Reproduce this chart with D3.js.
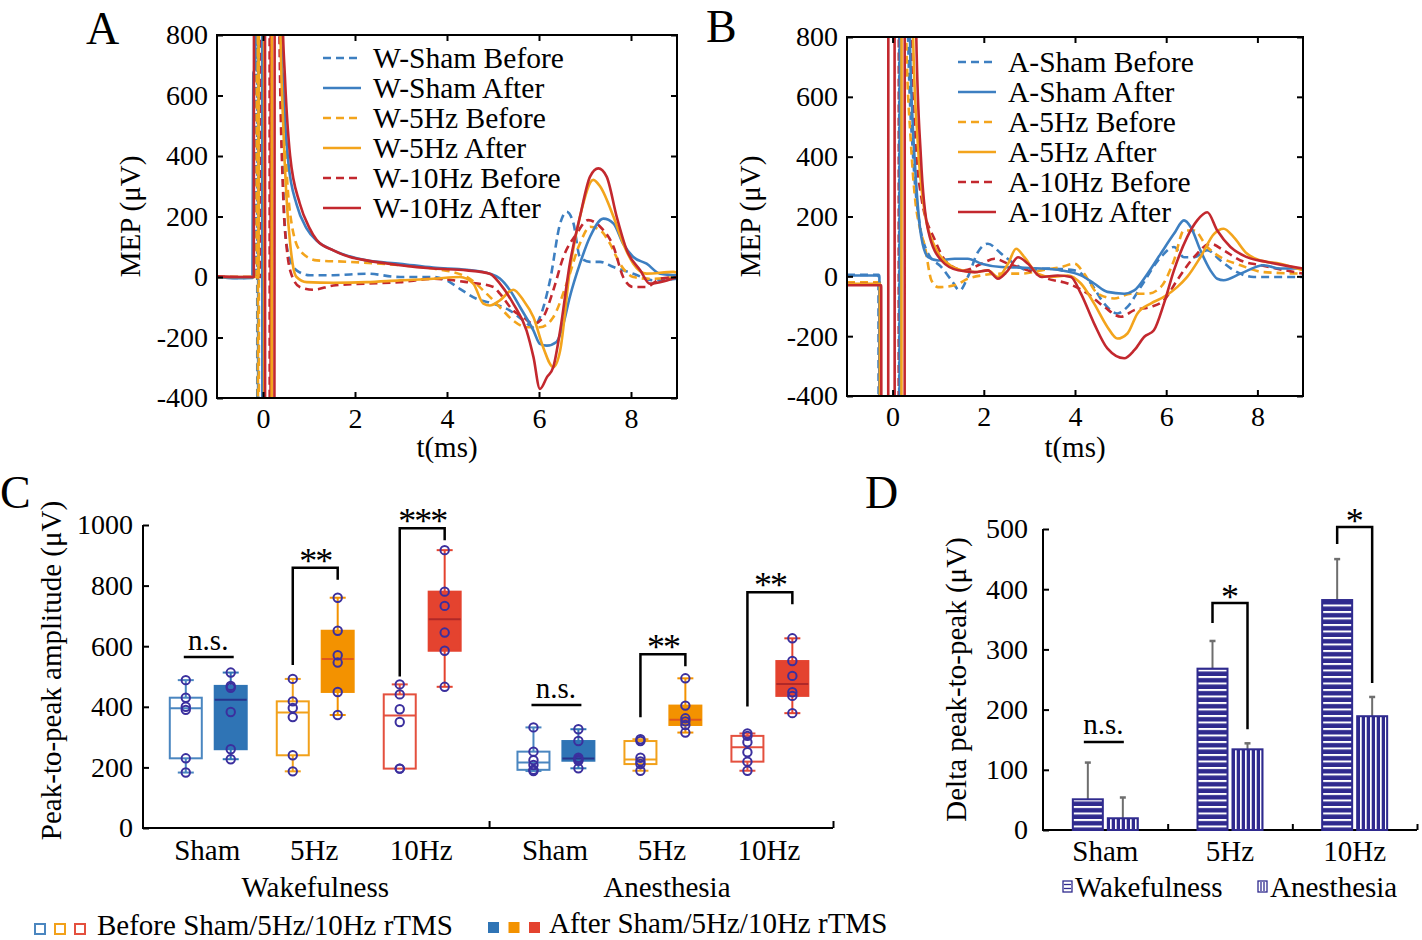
<!DOCTYPE html>
<html><head><meta charset="utf-8">
<script src="https://cdn.jsdelivr.net/npm/d3@7"></script>
<style>
body{margin:0;background:#fff}
svg{display:block}
text{font-family:"Liberation Serif","Times New Roman",serif;fill:#000}
</style>
</head><body>
<svg id="c" width="1422" height="940"></svg>
<script>
// ---------------- DATA ----------------
const tTicks = [0, 2, 4, 6, 8];
const mepTicks = [-400, -200, 0, 200, 400, 600, 800];
const wLabels = ["W-Sham Before", "W-Sham After", "W-5Hz Before", "W-5Hz After", "W-10Hz Before", "W-10Hz After"];
const aLabels = ["A-Sham Before", "A-Sham After", "A-5Hz Before", "A-5Hz After", "A-10Hz Before", "A-10Hz After"];

// Panel A traces [t (ms), MEP (uV)]
const wShamBefore = [[-1,0],[-0.5,-3],[-0.16,0],[-0.15,2500],[-0.13,2500],[-0.12,-2500],[-0.11,-2500],[-0.10,2500],[0.30,2500],[0.37,850],[0.43,350],[0.51,110],[0.62,45],[0.73,22],[1.02,6],[1.53,6],[2.25,11],[2.98,0],[3.70,0],[3.99,-11],[4.28,-39],[4.64,-72],[5.01,-88],[5.37,-111],[5.66,-144],[5.88,-166],[6.02,-133],[6.24,-11],[6.46,177],[6.60,216],[6.75,177],[6.89,66],[7.11,50],[7.33,50],[7.62,33],[8.05,11],[8.49,-11],[9.0,-6]];
const wShamAfter = [[-1,0],[-0.6,-4],[-0.23,-3],[-0.21,674],[-0.17,690],[-0.15,2500],[-0.02,2500],[-0.01,-2500],[0.01,-2500],[0.02,2500],[0.33,2500],[0.38,900],[0.45,600],[0.55,380],[0.73,240],[0.95,160],[1.17,120],[1.53,88],[2.25,55],[2.98,44],[3.70,31],[4.43,24],[4.93,11],[5.15,-5],[5.37,-44],[5.59,-100],[5.88,-177],[6.02,-221],[6.17,-227],[6.38,-215],[6.53,-155],[6.67,-66],[6.89,44],[7.11,133],[7.40,193],[7.62,177],[7.83,110],[8.05,66],[8.34,44],[8.63,11],[9.0,6]];
const wFiveBefore = [[-1,0],[-0.5,0],[-0.14,0],[-0.13,2500],[-0.115,2500],[-0.105,-2500],[-0.095,-2500],[-0.085,2500],[0.35,2500],[0.42,800],[0.50,400],[0.59,210],[0.80,88],[1.17,55],[1.89,50],[2.98,39],[3.70,28],[4.43,0],[4.86,-55],[5.15,-100],[5.44,-144],[5.73,-166],[6.02,-166],[6.31,-133],[6.60,-22],[6.89,111],[7.11,166],[7.33,155],[7.54,111],[7.76,44],[8.05,0],[8.41,-6],[9.0,0]];
const wFiveAfter = [[-1,0],[-0.5,0],[-0.1,0],[-0.09,2500],[0.02,2500],[0.03,-2500],[0.18,-2500],[0.20,2500],[0.32,2500],[0.37,900],[0.44,500],[0.51,265],[0.59,111],[0.66,30],[0.73,0],[0.95,-17],[1.53,-19],[2.25,-17],[2.98,-11],[3.70,-6],[4.28,0],[4.57,-22],[4.79,-88],[4.93,-94],[5.15,-77],[5.44,-42],[5.66,-77],[5.88,-133],[6.09,-232],[6.31,-298],[6.46,-243],[6.67,22],[6.89,199],[7.18,321],[7.33,299],[7.62,199],[7.83,111],[8.05,44],[8.34,11],[8.92,17],[9.0,15]];
const wTenBefore = [[-1,0],[-0.5,0],[-0.05,0],[-0.04,2500],[0.14,2500],[0.15,-2500],[0.16,-2500],[0.17,2500],[0.30,2500],[0.35,900],[0.44,265],[0.52,90],[0.59,22],[0.80,-33],[1.09,-42],[1.53,-28],[2.25,-22],[2.98,-17],[3.70,-6],[4.43,-17],[5.01,-33],[5.15,-55],[5.44,-111],[5.66,-133],[5.88,-155],[6.09,-133],[6.31,-44],[6.53,66],[6.82,144],[7.07,188],[7.33,166],[7.62,100],[7.83,0],[8.05,-33],[8.34,-33],[8.63,-6],[9.0,0]];
const wTenAfter = [[-1,2],[-0.5,0],[-0.2,0],[-0.19,2500],[0.04,2500],[0.05,-2500],[0.24,-2500],[0.26,2500],[0.36,2500],[0.42,900],[0.48,652],[0.59,400],[0.80,243],[1.0,165],[1.17,122],[1.53,88],[1.89,66],[2.25,55],[2.98,39],[3.70,28],[4.43,22],[4.93,11],[5.15,-22],[5.44,-88],[5.73,-177],[5.88,-265],[6.02,-370],[6.17,-332],[6.31,-298],[6.46,-177],[6.67,44],[6.89,199],[7.11,332],[7.29,359],[7.47,332],[7.69,199],[7.91,88],[8.20,22],[8.41,-22],[8.63,-17],[9.0,0]];

// Panel B traces
const aShamBefore = [[-1,5],[-0.5,5],[-0.31,5],[-0.30,-2500],[0.14,-2500],[0.15,2500],[0.28,2500],[0.34,800],[0.45,400],[0.56,209],[0.78,76],[1.07,31],[1.29,-13],[1.47,-47],[1.65,-2],[1.87,81],[2.09,109],[2.38,76],[2.67,42],[2.97,20],[3.40,26],[3.99,20],[4.35,-24],[4.64,-91],[4.93,-124],[5.15,-102],[5.44,-36],[5.88,64],[6.17,98],[6.39,64],[6.61,64],[6.90,87],[7.19,53],[7.48,20],[7.92,-2],[9.0,-2]];
const aShamAfter = [[-1,3],[-0.5,3],[-0.29,3],[-0.28,-2500],[0.15,-2500],[0.16,2500],[0.32,2500],[0.38,800],[0.43,550],[0.49,375],[0.63,131],[0.78,64],[1.0,53],[1.36,59],[1.65,59],[1.95,42],[2.38,31],[2.82,29],[3.26,26],[3.69,20],[4.13,3],[4.42,-24],[4.71,-52],[5.08,-58],[5.30,-47],[5.59,9],[5.88,76],[6.17,142],[6.39,187],[6.54,164],[6.75,87],[6.97,20],[7.12,-8],[7.26,-13],[7.63,9],[8.14,37],[8.50,26],[9.0,26]];
const aFiveBefore = [[-1,-20],[-0.5,-20],[-0.28,-20],[-0.27,-2500],[0.17,-2500],[0.18,2500],[0.25,2500],[0.30,800],[0.40,450],[0.49,264],[0.60,160],[0.71,98],[0.85,-13],[1.0,-36],[1.36,-30],[1.65,-8],[1.95,3],[2.38,9],[2.82,9],[3.26,20],[3.69,31],[3.99,42],[4.20,9],[4.50,-58],[4.86,-74],[5.22,-58],[5.59,-58],[5.88,-36],[6.17,53],[6.39,153],[6.61,153],[6.90,98],[7.19,64],[7.63,37],[8.14,14],[9.0,9]];
const aFiveAfter = [[-1,-25],[-0.5,-25],[-0.28,-25],[-0.27,-2500],[0.19,-2500],[0.20,2500],[0.38,2500],[0.45,800],[0.55,450],[0.71,209],[0.93,98],[1.22,42],[1.51,20],[1.80,14],[2.09,20],[2.31,-2],[2.53,42],[2.71,92],[2.89,64],[3.18,9],[3.48,-2],[3.84,3],[4.13,-24],[4.42,-91],[4.71,-169],[4.93,-208],[5.15,-191],[5.37,-124],[5.66,-91],[5.95,-69],[6.24,-36],[6.46,-2],[6.75,64],[7.05,142],[7.26,159],[7.48,131],[7.77,76],[8.07,53],[8.50,42],[9.0,20]];
const aTenBefore = [[-1,-25],[-0.5,-25],[-0.29,-25],[-0.28,-2500],[0.13,-2500],[0.14,2500],[0.34,2500],[0.40,800],[0.50,450],[0.63,264],[0.93,120],[1.22,42],[1.58,20],[1.95,42],[2.24,59],[2.53,42],[2.97,20],[3.40,-8],[3.84,-24],[4.28,-58],[4.64,-102],[5.01,-135],[5.30,-113],[5.66,-102],[5.95,-80],[6.24,-13],[6.61,64],[6.97,109],[7.26,87],[7.63,53],[8.07,37],[9.0,9]];
const aTenAfter = [[-1,-30],[-0.5,-30],[-0.25,-30],[-0.24,-2500],[-0.10,-2500],[-0.09,2500],[0.04,2500],[0.05,-2500],[0.26,-2500],[0.27,2500],[0.45,2500],[0.52,800],[0.62,400],[0.78,153],[1.07,53],[1.44,20],[1.80,14],[2.09,20],[2.31,-8],[2.53,20],[2.75,64],[2.97,42],[3.26,-2],[3.62,3],[3.91,-2],[4.13,-58],[4.42,-158],[4.71,-241],[5.08,-274],[5.30,-247],[5.52,-202],[5.73,-180],[5.95,-91],[6.17,20],[6.46,131],[6.68,187],[6.90,214],[7.12,153],[7.41,98],[7.77,64],[8.21,48],[9.0,26]];

// Panel C: peak-to-peak amplitude (uV), individual animals
const stimCats = ["Sham", "5Hz", "10Hz"];
const stateCats = ["Wakefulness", "Anesthesia"];
const ampTicks = [0, 200, 400, 600, 800, 1000];
const wakeBefore = [[183,230,390,400,430,488],[187,240,366,396,418,492],[196,196,350,392,441,474]];
const wakeAfter  = [[227,260,383,463,469,513],[373,449,546,570,651,760],[466,585,645,733,780,917]];
const anesBefore = [[188,192,208,224,252,332],[189,211,220,232,287,293],[189,219,250,283,304,312]];
const anesAfter  = [[197,222,227,232,287,326],[315,340,352,362,404,494],[379,436,448,502,551,626]];
const sigC = ["n.s.", "**", "***", "n.s.", "**", "**"];

// Panel D: delta peak-to-peak (mean, SD)
const deltaTicks = [0, 100, 200, 300, 400, 500];
const deltaWake = [51, 268, 382];
const deltaWakeSD = [61, 46, 68];
const deltaAnes = [19.5, 134, 189];
const deltaAnesSD = [34.5, 10, 32];
const sigD = ["n.s.", "*", "*"];

// ---------------- DRAW ----------------
const svg = d3.select('#c');
const FS = 28;
const COL = {blue:'#3d7fc1', orange:'#f3a41c', red:'#c3282e'};
const BOX = {
  before:['#4a86c0','#f2a11a','#e4503e'],
  after:['#2f74b5','#f39200','#e4432f'],
  medAfter:['#27348c','#e0561c','#b02828']
};
const NAVY = '#2f2a8e';
const PT = '#3b2f9e';
const plain = d => String(d);

function styleAxis(g, showText){
  g.selectAll('.domain').remove();
  g.selectAll('line').attr('stroke','#000').attr('stroke-width',2);
  g.selectAll('text').attr('font-size',FS).attr('fill','#000');
  if(!showText) g.selectAll('text').remove();
}

const defs = svg.append('defs');

function tracePanel(o){
  const x = d3.scaleLinear().domain([-1,9]).range([o.x0,o.x1]);
  const y = d3.scaleLinear().domain([-400,800]).range([o.y1,o.y0]);
  const g = svg.append('g');
  defs.append('clipPath').attr('id',o.id).append('rect')
    .attr('x',o.x0).attr('y',o.y0).attr('width',o.x1-o.x0).attr('height',o.y1-o.y0);
  const line = d3.line().x(d=>x(d[0])).y(d=>y(d[1])).curve(d3.curveMonotoneX);
  const order = [0,2,4,1,3,5];
  order.forEach(i=>{
    const s = o.series[i];
    g.append('path').attr('d',line(s.data)).attr('clip-path',`url(#${o.id})`)
      .attr('fill','none').attr('stroke',s.color).attr('stroke-width',2.6)
      .attr('stroke-linejoin','round')
      .attr('stroke-dasharray',s.dash?'8,5':null);
  });
  // axes
  const gl = g.append('g').attr('transform',`translate(${o.x0},0)`)
    .call(d3.axisLeft(y).tickValues(mepTicks).tickFormat(plain).tickSizeInner(-6).tickSizeOuter(0).tickPadding(9));
  styleAxis(gl,true);
  const gr = g.append('g').attr('transform',`translate(${o.x1},0)`)
    .call(d3.axisRight(y).tickValues(mepTicks).tickSizeInner(-6).tickSizeOuter(0));
  styleAxis(gr,false);
  const gb = g.append('g').attr('transform',`translate(0,${o.y1})`)
    .call(d3.axisBottom(x).tickValues(tTicks).tickFormat(plain).tickSizeInner(-6).tickSizeOuter(0).tickPadding(10));
  styleAxis(gb,true);
  const gt = g.append('g').attr('transform',`translate(0,${o.y0})`)
    .call(d3.axisTop(x).tickValues(tTicks).tickSizeInner(-6).tickSizeOuter(0));
  styleAxis(gt,false);
  g.append('rect').attr('x',o.x0).attr('y',o.y0).attr('width',o.x1-o.x0).attr('height',o.y1-o.y0)
    .attr('fill','none').attr('stroke','#000').attr('stroke-width',2);
  // legend
  o.labels.forEach((lab,i)=>{
    const s = o.series[i];
    const ly = o.legY + i*30;
    g.append('line').attr('x1',o.legX).attr('x2',o.legX+38).attr('y1',ly).attr('y2',ly)
      .attr('stroke',s.color).attr('stroke-width',2.6).attr('stroke-dasharray',s.dash?'8,5':null);
    g.append('text').attr('x',o.legX+50).attr('y',ly+10).attr('font-size',29.5).text(lab);
  });
  // labels
  g.append('text').attr('transform',`translate(${o.ylabX},${(o.y0+o.y1)/2}) rotate(-90)`)
    .attr('text-anchor','middle').attr('font-size',29).text('MEP (μV)');
  g.append('text').attr('x',(o.x0+o.x1)/2).attr('y',457).attr('text-anchor','middle')
    .attr('font-size',29).text('t(ms)');
  g.append('text').attr('x',o.letX).attr('y',o.letY).attr('font-size',46).text(o.letter);
}

tracePanel({id:'clipA',x0:217,x1:677,y0:35,y1:398,legX:323,legY:58,ylabX:140,letX:86,letY:44,letter:'A',
  labels:wLabels,
  series:[
    {data:wShamBefore,color:COL.blue,dash:true},
    {data:wShamAfter,color:COL.blue,dash:false},
    {data:wFiveBefore,color:COL.orange,dash:true},
    {data:wFiveAfter,color:COL.orange,dash:false},
    {data:wTenBefore,color:COL.red,dash:true},
    {data:wTenAfter,color:COL.red,dash:false}
  ]});
tracePanel({id:'clipB',x0:847,x1:1303,y0:37,y1:396,legX:958,legY:62,ylabX:760,letX:706,letY:42,letter:'B',
  labels:aLabels,
  series:[
    {data:aShamBefore,color:COL.blue,dash:true},
    {data:aShamAfter,color:COL.blue,dash:false},
    {data:aFiveBefore,color:COL.orange,dash:true},
    {data:aFiveAfter,color:COL.orange,dash:false},
    {data:aTenBefore,color:COL.red,dash:true},
    {data:aTenAfter,color:COL.red,dash:false}
  ]});

// ---------- Panel C ----------
function prc(s,p){
  const n=s.length; const pos=p*n+0.5;
  if(pos<=1) return s[0]; if(pos>=n) return s[n-1];
  const lo=Math.floor(pos), fr=pos-lo;
  return s[lo-1]+fr*(s[lo]-s[lo-1]);
}
(function(){
  const g = svg.append('g');
  const x = d3.scaleLinear().domain([0.39,6.84]).range([143,833]);
  const y = d3.scaleLinear().domain([0,1000]).range([828,525]);
  const pairPos = [1,2,3,4.25,5.25,6.25];
  const off = 0.21, bw = 32;
  const gl = g.append('g').attr('transform','translate(143,0)')
    .call(d3.axisLeft(y).tickValues(ampTicks).tickFormat(plain).tickSizeInner(-6).tickSizeOuter(0).tickPadding(10));
  styleAxis(gl,true);
  g.append('line').attr('x1',143).attr('x2',143).attr('y1',y(1000)).attr('y2',y(0)).attr('stroke','#000').attr('stroke-width',2);
  g.append('line').attr('x1',142).attr('x2',833).attr('y1',y(0)).attr('y2',y(0)).attr('stroke','#000').attr('stroke-width',2);
  const gb = g.append('g').attr('transform',`translate(0,${y(0)})`)
    .call(d3.axisBottom(x).tickValues([3.625,6.84]).tickSizeInner(-7).tickSizeOuter(0));
  styleAxis(gb,false);

  const groups = [];
  [wakeBefore,anesBefore].forEach((arr,si)=>{
    const after = si===0?wakeAfter:anesAfter;
    arr.forEach((vals,ci)=>{
      groups.push({pos:pairPos[si*3+ci]-off, vals, ci, filled:false});
      groups.push({pos:pairPos[si*3+ci]+off, vals:after[ci], ci, filled:true});
    });
  });
  groups.forEach(gr=>{
    const s = gr.vals.slice().sort((a,b)=>a-b);
    const q1=prc(s,0.25), q2=prc(s,0.5), q3=prc(s,0.75), mn=s[0], mx=s[s.length-1];
    const cx = x(gr.pos);
    const col = gr.filled?BOX.after[gr.ci]:BOX.before[gr.ci];
    if(mx>q3){
      g.append('line').attr('x1',cx).attr('x2',cx).attr('y1',y(q3)).attr('y2',y(mx)).attr('stroke',col).attr('stroke-width',2);
      g.append('line').attr('x1',cx-8).attr('x2',cx+8).attr('y1',y(mx)).attr('y2',y(mx)).attr('stroke',col).attr('stroke-width',2);
    }
    if(mn<q1){
      g.append('line').attr('x1',cx).attr('x2',cx).attr('y1',y(q1)).attr('y2',y(mn)).attr('stroke',col).attr('stroke-width',2);
      g.append('line').attr('x1',cx-8).attr('x2',cx+8).attr('y1',y(mn)).attr('y2',y(mn)).attr('stroke',col).attr('stroke-width',2);
    }
    g.append('rect').attr('x',cx-bw/2).attr('y',y(q3)).attr('width',bw).attr('height',y(q1)-y(q3))
      .attr('fill',gr.filled?col:'#fff').attr('stroke',col).attr('stroke-width',2);
    g.append('line').attr('x1',cx-bw/2).attr('x2',cx+bw/2).attr('y1',y(q2)).attr('y2',y(q2))
      .attr('stroke',gr.filled?BOX.medAfter[gr.ci]:col).attr('stroke-width',2);
    gr.vals.forEach(v=>{
      g.append('circle').attr('cx',cx).attr('cy',y(v)).attr('r',4.2)
        .attr('fill','none').attr('stroke',PT).attr('stroke-width',2);
    });
  });
  // significance
  const topGap = [0,30,22,0,24,46];
  const leftGap = [0,14,8,0,22,27];
  pairPos.forEach((p,i)=>{
    const xl = x(p-off), xr = x(p+off);
    const before = i<3?wakeBefore[i]:anesBefore[i-3];
    const after = i<3?wakeAfter[i]:anesAfter[i-3];
    const bmax = d3.max(before), amax = d3.max(after);
    const cxm = (xl+xr)/2;
    if(sigC[i]==='n.s.'){
      const lyy = i===0?657:705;
      g.append('line').attr('x1',xl-2).attr('x2',xr+3).attr('y1',lyy).attr('y2',lyy).attr('stroke','#000').attr('stroke-width',2.5);
      g.append('text').attr('x',cxm).attr('y',lyy-7).attr('text-anchor','middle').attr('font-size',29).text('n.s.');
    } else {
      const topY = y(amax) - topGap[i];
      const leftEnd = y(bmax) - leftGap[i];
      const rightEnd = topY + 12;
      g.append('path').attr('d',`M${xl},${leftEnd}V${topY}H${xr}V${rightEnd}`)
        .attr('fill','none').attr('stroke','#000').attr('stroke-width',2.5);
      g.append('text').attr('x',cxm).attr('y',topY+5).attr('text-anchor','middle').attr('font-size',36).attr('letter-spacing',-2).text(sigC[i]);
    }
  });
  pairPos.forEach((p,i)=>{
    g.append('text').attr('x',x(p)-1).attr('y',860).attr('text-anchor','middle').attr('font-size',29).text(stimCats[i%3]);
  });
  g.append('text').attr('x',x(2)).attr('y',897).attr('text-anchor','middle').attr('font-size',29).text(stateCats[0]);
  g.append('text').attr('x',x(5.25)+4).attr('y',897).attr('text-anchor','middle').attr('font-size',29).text(stateCats[1]);
  g.append('text').attr('transform',`translate(61,${(y(0)+y(1000))/2-6}) rotate(-90)`)
    .attr('text-anchor','middle').attr('font-size',29).text('Peak-to-peak amplitude (μV)');
  g.append('text').attr('x',0).attr('y',508).attr('font-size',46).text('C');
  // bottom legend
  [0,1,2].forEach(i=>{
    g.append('rect').attr('x',35+i*20).attr('y',924).attr('width',10).attr('height',10)
      .attr('fill','#fff').attr('stroke',BOX.before[i]).attr('stroke-width',2);
    g.append('rect').attr('x',488+i*20.5).attr('y',922).attr('width',11).attr('height',11)
      .attr('fill',BOX.after[i]);
  });
  g.append('text').attr('x',97).attr('y',935).attr('font-size',29).text('Before Sham/5Hz/10Hz rTMS');
  g.append('text').attr('x',549).attr('y',933).attr('font-size',29).text('After Sham/5Hz/10Hz rTMS');
})();

// ---------- Panel D ----------
(function(){
  const pH = defs.append('pattern').attr('id','hStripe').attr('patternUnits','userSpaceOnUse')
    .attr('width',8).attr('height',6.5);
  pH.append('rect').attr('width',8).attr('height',6.5).attr('fill',NAVY);
  pH.append('rect').attr('y',0).attr('width',8).attr('height',2).attr('fill','#fff');
  const pV = defs.append('pattern').attr('id','vStripe').attr('patternUnits','userSpaceOnUse')
    .attr('width',5).attr('height',8);
  pV.append('rect').attr('width',5).attr('height',8).attr('fill',NAVY);
  pV.append('rect').attr('x',0).attr('width',1.7).attr('height',8).attr('fill','#fff');

  const g = svg.append('g');
  const x = d3.scaleLinear().domain([0.5,3.5]).range([1043,1417]);
  const y = d3.scaleLinear().domain([0,500]).range([830,529]);
  const gl = g.append('g').attr('transform','translate(1043,0)')
    .call(d3.axisLeft(y).tickValues(deltaTicks).tickFormat(plain).tickSizeInner(-6).tickSizeOuter(0).tickPadding(15));
  styleAxis(gl,true);
  g.append('line').attr('x1',1043).attr('x2',1043).attr('y1',y(500)).attr('y2',y(0)).attr('stroke','#000').attr('stroke-width',2);
  g.append('line').attr('x1',1042).attr('x2',1417).attr('y1',y(0)).attr('y2',y(0)).attr('stroke','#000').attr('stroke-width',2);
  const gb = g.append('g').attr('transform',`translate(0,${y(0)})`)
    .call(d3.axisBottom(x).tickValues([1.5,2.5,3.5]).tickSizeInner(-6).tickSizeOuter(0));
  styleAxis(gb,false);

  const bw = 30, off = 17.5;
  const series = [
    {vals:deltaWake, sd:deltaWakeSD, pat:'hStripe', dx:-off},
    {vals:deltaAnes, sd:deltaAnesSD, pat:'vStripe', dx:off}
  ];
  series.forEach(s=>{
    s.vals.forEach((v,i)=>{
      const cx = x(i+1)+s.dx;
      const top = y(v+s.sd[i]);
      g.append('line').attr('x1',cx).attr('x2',cx).attr('y1',y(v)).attr('y2',top).attr('stroke','#6e6e6e').attr('stroke-width',2);
      g.append('line').attr('x1',cx-3).attr('x2',cx+3).attr('y1',top).attr('y2',top).attr('stroke','#6e6e6e').attr('stroke-width',2.5);
      g.append('rect').attr('x',cx-bw/2).attr('y',y(v)).attr('width',bw).attr('height',y(0)-y(v))
        .attr('fill',`url(#${s.pat})`).attr('stroke',NAVY).attr('stroke-width',2);
    });
  });
  const dTopGap = [0,38,32];
  const dLeftLeg = [0,20,17];
  [0,1,2].forEach(i=>{
    const xl = x(i+1)-off, xr = x(i+1)+off;
    if(sigD[i]==='n.s.'){
      const ly = 742;
      g.append('line').attr('x1',xl-4).attr('x2',xr+1).attr('y1',ly).attr('y2',ly).attr('stroke','#000').attr('stroke-width',2.5);
      g.append('text').attr('x',(xl+xr)/2-2).attr('y',ly-8).attr('text-anchor','middle').attr('font-size',29).text('n.s.');
    } else {
      const topW = y(deltaWake[i]+deltaWakeSD[i]);
      const topA = y(deltaAnes[i]+deltaAnesSD[i]);
      const topY = topW - dTopGap[i];
      g.append('path').attr('d',`M${xl},${topY+dLeftLeg[i]}V${topY}H${xr}V${topA-14}`)
        .attr('fill','none').attr('stroke','#000').attr('stroke-width',2.5);
      g.append('text').attr('x',(xl+xr)/2).attr('y',topY+6).attr('text-anchor','middle').attr('font-size',36).text('*');
    }
  });
  stimCats.forEach((c,i)=>{
    g.append('text').attr('x',x(i+1)).attr('y',861).attr('text-anchor','middle').attr('font-size',29).text(c);
  });
  g.append('rect').attr('x',1063).attr('y',881).attr('width',9).attr('height',11)
    .attr('fill','#fff').attr('stroke',NAVY).attr('stroke-width',1.3);
  [884.5,888.5].forEach(yy=>g.append('line').attr('x1',1064).attr('x2',1071).attr('y1',yy).attr('y2',yy).attr('stroke',NAVY).attr('stroke-width',1.3));
  g.append('text').attr('x',1075).attr('y',897).attr('font-size',29).text(stateCats[0]);
  g.append('rect').attr('x',1258).attr('y',881).attr('width',9).attr('height',11)
    .attr('fill','#fff').attr('stroke',NAVY).attr('stroke-width',1.3);
  [1261,1264].forEach(xx=>g.append('line').attr('x1',xx).attr('x2',xx).attr('y1',882).attr('y2',891).attr('stroke',NAVY).attr('stroke-width',1.3));
  g.append('text').attr('x',1270).attr('y',897).attr('font-size',29).text(stateCats[1]);
  g.append('text').attr('transform',`translate(966,${(y(0)+y(500))/2}) rotate(-90)`)
    .attr('text-anchor','middle').attr('font-size',29).text('Delta peak-to-peak (μV)');
  g.append('text').attr('x',865).attr('y',508).attr('font-size',46).text('D');
})();
</script>
</body></html>
